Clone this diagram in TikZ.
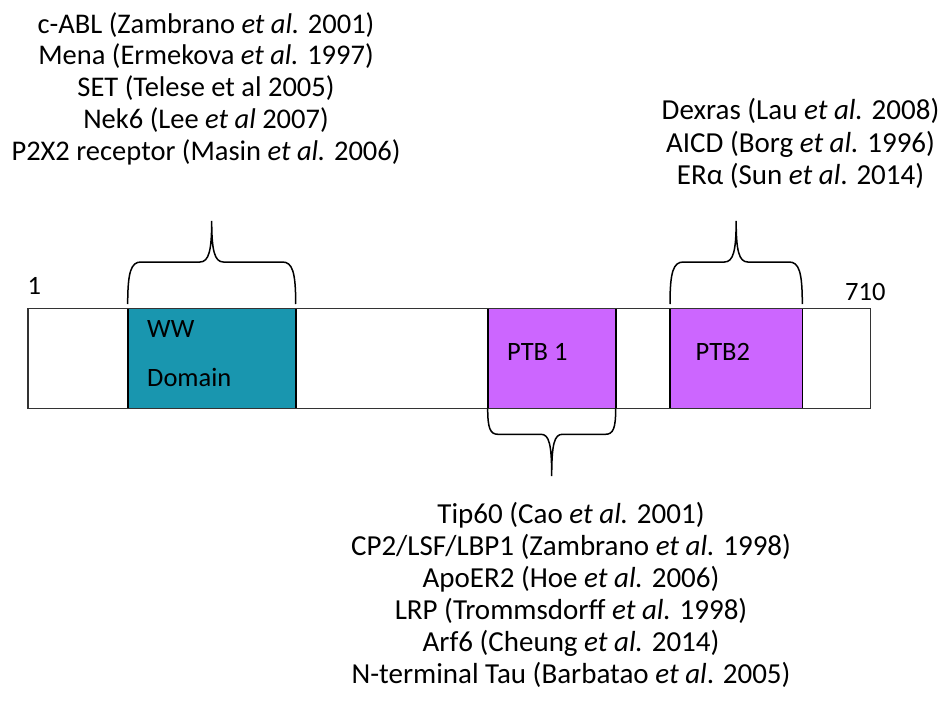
\documentclass[tikz,border=0pt]{standalone}
\usepackage{fontspec}
\setmainfont{Carlito}
\definecolor{wwteal}{RGB}{25,150,175}
\definecolor{ptbpurple}{RGB}{204,102,255}
\begin{document}
\begin{tikzpicture}[x=1pt,y=-1pt,
  bar/.style={draw=black!80,line width=1.6pt,fill=white,minimum width=842.6pt,minimum height=100pt,inner sep=0pt,outer sep=0pt},
  dombox/.style={draw=black,line width=1.6pt,minimum height=100pt,inner sep=0pt,outer sep=0pt},
  lbl/.style={font=\fontsize{26.5}{30}\selectfont,inner sep=0pt,anchor=base west},
  refs/.style={align=center,inner sep=0pt,anchor=base},
  brace/.style={draw=black,line width=1.5pt}]
\useasboundingbox (0,0) rectangle (944,711);
% bar and domains
\node[bar] (bar) at (449,358.3) {};
\node[dombox,fill=wwteal,minimum width=168pt] (ww) at (211.7,358.3) {};
\node[dombox,fill=ptbpurple,minimum width=128pt] (ptb1) at (551.7,358.3) {};
\node[dombox,fill=ptbpurple,minimum width=132.3pt] (ptb2) at (736.15,358.3) {};
\draw[draw=black!80,line width=1.6pt] (bar.north west) rectangle (bar.south east);
% labels
\node[lbl] (one) at (27.5,294) {1};
\node[lbl] (end) at (845,300) {710};
\node[lbl] (wwa) at (147,337.3) {WW};
\node[lbl] (wwb) at (147,386.7) {Domain};
\node[lbl] (p1) at (507,360) {PTB 1};
\node[lbl] (p2) at (695.5,360) {PTB2};
% reference blocks (anchor = baseline of last line)
\node[refs,font=\fontsize{28.5}{31.7}\selectfont] (wwrefs) at (206,160.1) {c-ABL (Zambrano \textit{et al.} 2001)\\
Mena (Ermekova \textit{et al.} 1997)\\
SET (Telese et al 2005)\\
Nek6 (Lee \textit{et al} 2007)\\
P2X2 receptor (Masin \textit{et al.} 2006)};
\node[refs,font=\fontsize{29}{32.5}\selectfont] (p2refs) at (800.5,185) {Dexras (Lau \textit{et al.} 2008)\\
AICD (Borg \textit{et al.} 1996)\\
ERα (Sun \textit{et al}. 2014)};
\node[refs,font=\fontsize{29}{32}\selectfont] (p1refs) at (571,683.3) {Tip60 (Cao \textit{et al.} 2001)\\
CP2/LSF/LBP1 (Zambrano \textit{et al.} 1998)\\
ApoER2 (Hoe \textit{et al.} 2006)\\
LRP (Trommsdorff \textit{et al.} 1998)\\
Arf6 (Cheung \textit{et al.} 2014)\\
N-terminal Tau (Barbatao \textit{et al}. 2005)};
% brace tips
\coordinate (wwtip) at (211.7,221);
\coordinate (p2tip) at (736.15,221);
\coordinate (p1tip) at (551.7,476);
% braces
\draw[brace] ([yshift=4.3pt]ww.north west) .. controls (127.7,272) and (131,262) .. (141,262) -- (200,262)
  .. controls (209,262) and (211.7,250) .. (wwtip)
  .. controls (211.7,250) and (214.4,262) .. (223.4,262) -- (282.4,262)
  .. controls (292.4,262) and (295.7,272) .. ([yshift=4.3pt]ww.north east);
\draw[brace] ([yshift=4.3pt]ptb2.north west) .. controls (670,272) and (673.3,262) .. (683.3,262) -- (724.5,262)
  .. controls (733.5,262) and (736.15,250) .. (p2tip)
  .. controls (736.15,250) and (738.8,262) .. (747.8,262) -- (789,262)
  .. controls (799,262) and (802.3,272) .. ([yshift=4.3pt]ptb2.north east);
\draw[brace] (ptb1.south west) .. controls (487.7,428) and (490,434.3) .. (498,434.3) -- (541,434.3)
  .. controls (549,434.3) and (551.7,444) .. (p1tip)
  .. controls (551.7,444) and (554.4,434.3) .. (562.4,434.3) -- (605.4,434.3)
  .. controls (613.4,434.3) and (615.7,428) .. (ptb1.south east);
\end{tikzpicture}
\end{document}
